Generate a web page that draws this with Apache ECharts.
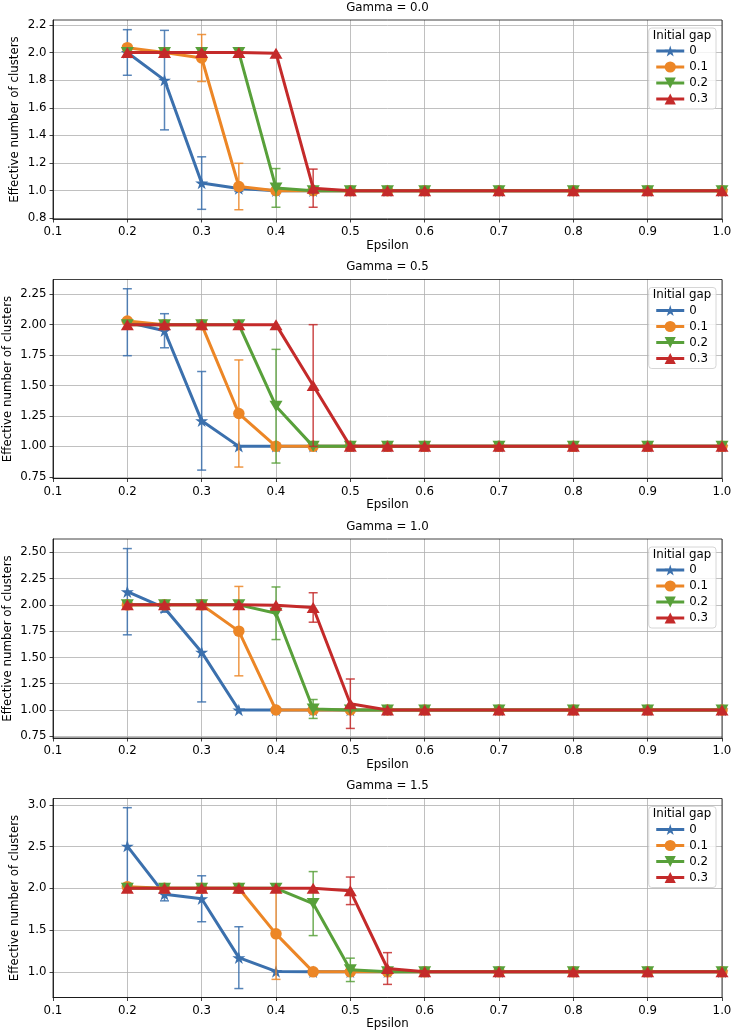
<!DOCTYPE html>
<html><head><meta charset="utf-8">
<script src="https://cdn.jsdelivr.net/npm/echarts@6/dist/echarts.min.js"></script>
<style>html,body{margin:0;padding:0;background:#fff}#c{width:733px;height:1036px}</style>
</head><body><div id="c"></div>
<script>
// ---------------- data ----------------
const epsilon = [0.2, 0.25, 0.3, 0.35, 0.4, 0.45, 0.5, 0.55, 0.6, 0.7, 0.8, 0.9, 1.0];
const gapNames = ['0', '0.1', '0.2', '0.3'];
const gammaTitles = ['Gamma = 0.0', 'Gamma = 0.5', 'Gamma = 1.0', 'Gamma = 1.5'];

// Gamma = 0.0 (one list per initial gap: 0, 0.1, 0.2, 0.3)
const meanG00 = [
  [2.0, 1.80, 1.055, 1.015, 1.0, 1.0, 1.0, 1.0, 1.0, 1.0, 1.0, 1.0, 1.0],
  [2.035, 2.0, 1.96, 1.03, 1.0, 1.0, 1.0, 1.0, 1.0, 1.0, 1.0, 1.0, 1.0],
  [2.0, 2.0, 2.0, 2.0, 1.02, 1.0, 1.0, 1.0, 1.0, 1.0, 1.0, 1.0, 1.0],
  [2.0, 2.0, 2.0, 2.0, 1.995, 1.018, 1.0, 1.0, 1.0, 1.0, 1.0, 1.0, 1.0]
];
const errG00 = [
  [0.165, 0.36, 0.19, 0.02, 0, 0, 0, 0, 0, 0, 0, 0, 0],
  [0, 0, 0.17, 0.168, 0.02, 0, 0, 0, 0, 0, 0, 0, 0],
  [0, 0, 0, 0, 0.14, 0, 0, 0, 0, 0, 0, 0, 0],
  [0, 0, 0, 0, 0, 0.138, 0, 0, 0, 0, 0, 0, 0]
];
// Gamma = 0.5
const meanG05 = [
  [2.02, 1.95, 1.21, 1.0, 1.0, 1.0, 1.0, 1.0, 1.0, 1.0, 1.0, 1.0, 1.0],
  [2.03, 2.0, 2.0, 1.27, 1.0, 1.0, 1.0, 1.0, 1.0, 1.0, 1.0, 1.0, 1.0],
  [2.0, 2.0, 2.0, 2.0, 1.33, 1.0, 1.0, 1.0, 1.0, 1.0, 1.0, 1.0, 1.0],
  [2.0, 2.0, 2.0, 2.0, 2.0, 1.5, 1.0, 1.0, 1.0, 1.0, 1.0, 1.0, 1.0]
];
const errG05 = [
  [0.275, 0.14, 0.405, 0, 0, 0, 0, 0, 0, 0, 0, 0, 0],
  [0, 0, 0, 0.44, 0, 0, 0, 0, 0, 0, 0, 0, 0],
  [0, 0, 0, 0, 0.467, 0, 0, 0, 0, 0, 0, 0, 0],
  [0, 0, 0, 0, 0, 0.5, 0, 0, 0, 0, 0, 0, 0]
];
// Gamma = 1.0
const meanG10 = [
  [2.125, 1.97, 1.55, 1.0, 1.0, 1.0, 1.0, 1.0, 1.0, 1.0, 1.0, 1.0, 1.0],
  [2.0, 2.0, 2.0, 1.75, 1.0, 1.0, 1.0, 1.0, 1.0, 1.0, 1.0, 1.0, 1.0],
  [2.0, 2.0, 2.0, 2.0, 1.92, 1.01, 1.0, 1.0, 1.0, 1.0, 1.0, 1.0, 1.0],
  [2.0, 2.0, 2.0, 2.0, 1.995, 1.975, 1.06, 1.0, 1.0, 1.0, 1.0, 1.0, 1.0]
];
const errG10 = [
  [0.41, 0.04, 0.473, 0, 0, 0, 0, 0, 0, 0, 0, 0, 0],
  [0, 0, 0, 0.425, 0, 0, 0, 0, 0, 0, 0, 0, 0],
  [0, 0, 0, 0, 0.25, 0.09, 0, 0, 0, 0, 0, 0, 0],
  [0, 0, 0, 0, 0, 0.14, 0.235, 0, 0, 0, 0, 0, 0]
];
// Gamma = 1.5
const meanG15 = [
  [2.505, 1.93, 1.875, 1.17, 1.005, 1.0, 1.0, 1.0, 1.0, 1.0, 1.0, 1.0, 1.0],
  [2.02, 2.0, 2.0, 2.0, 1.455, 1.0, 1.0, 1.0, 1.0, 1.0, 1.0, 1.0, 1.0],
  [2.0, 2.0, 2.0, 2.0, 2.0, 1.817, 1.024, 1.0, 1.0, 1.0, 1.0, 1.0, 1.0],
  [2.0, 2.0, 2.0, 2.0, 2.0, 2.0, 1.97, 1.04, 1.0, 1.0, 1.0, 1.0, 1.0]
];
const errG15 = [
  [0.46, 0.08, 0.275, 0.37, 0, 0, 0, 0, 0, 0, 0, 0, 0],
  [0, 0, 0, 0, 0.545, 0, 0, 0, 0, 0, 0, 0, 0],
  [0, 0, 0, 0, 0, 0.383, 0.14, 0, 0, 0, 0, 0, 0],
  [0, 0, 0, 0, 0, 0, 0.165, 0.19, 0, 0, 0, 0, 0]
];

const xTicks = [0.1, 0.2, 0.3, 0.4, 0.5, 0.6, 0.7, 0.8, 0.9, 1.0];
const yTicksG00 = [0.8, 1.0, 1.2, 1.4, 1.6, 1.8, 2.0, 2.2];
const yTicksG05 = [0.75, 1.0, 1.25, 1.5, 1.75, 2.0, 2.25];
const yTicksG10 = [0.75, 1.0, 1.25, 1.5, 1.75, 2.0, 2.25, 2.5];
const yTicksG15 = [1.0, 1.5, 2.0, 2.5, 3.0];
const yLimitsLow = [0.795, 0.736, 0.734, 0.693];
const yLimitsHigh = [2.235, 2.371, 2.626, 3.075];
const yDecimals = [1, 2, 2, 1];

// ---------------- presentation ----------------
const means = [meanG00, meanG05, meanG10, meanG15];
const errs = [errG00, errG05, errG10, errG15];
const yTicks = [yTicksG00, yTicksG05, yTicksG10, yTicksG15];

const FONT = 'DejaVu Sans';
const FS = 11.8;
const colors = ['#3b70ad', '#ec8626', '#58a03a', '#c42a2a'];
const STAR = 'path://M50,0 L61.23,34.55 L97.55,34.55 L68.16,55.9 L79.39,90.45 L50,69.1 L20.61,90.45 L31.84,55.9 L2.45,34.55 L38.77,34.55 Z';
const DOWN = 'path://M0,0 L100,0 L50,86 Z';
const symbols = [STAR, 'circle', DOWN, 'triangle'];
const symbolSizes = [[13, 12.5], 11.5, [13, 11], [13, 11]];

const panelTops = [20, 279.5, 539, 798.5];
const panelH = 199;
const L = 53, R = 11;
const yNameGaps = [32, 39, 39, 32];

function renderErr(params, api) {
  const x = api.value(0), lo = api.value(1), hi = api.value(2);
  if (hi - lo < 1e-9) return null;
  const a = api.coord([x, lo]), b = api.coord([x, hi]);
  const c = api.visual('color');
  const st = { stroke: c, lineWidth: 1.5, opacity: 0.85 };
  const cw = 4.5;
  return {
    type: 'group',
    children: [
      { type: 'line', shape: { x1: a[0], y1: a[1], x2: b[0], y2: b[1] }, style: st },
      { type: 'line', shape: { x1: a[0] - cw, y1: a[1], x2: a[0] + cw, y2: a[1] }, style: st },
      { type: 'line', shape: { x1: b[0] - cw, y1: b[1], x2: b[0] + cw, y2: b[1] }, style: st }
    ]
  };
}

const grid = [], xAxis = [], yAxis = [], series = [], legend = [], graphic = [];
for (let p = 0; p < 4; p++) {
  const top = panelTops[p];
  grid.push({ left: L, right: R, top: top, height: panelH, show: true, borderColor: '#111', borderWidth: 0.8, z: 1, containLabel: false, outerBoundsMode: 'none' });
  xAxis.push({
    type: 'value', gridIndex: p, min: 0.1, max: 1.0,
    name: 'Epsilon', nameLocation: 'middle', nameGap: 20.5, nameMoveOverlap: false,
    nameTextStyle: { fontFamily: FONT, fontSize: FS, color: '#000' },
    axisLine: { show: true, onZero: false, lineStyle: { color: '#111', width: 0.8 } },
    axisTick: { show: true, length: 3.5, customValues: xTicks, lineStyle: { color: '#111', width: 0.8 } },
    axisLabel: { customValues: xTicks, margin: 7, fontFamily: FONT, fontSize: FS, color: '#000', formatter: v => v.toFixed(1) },
    splitLine: { show: true, lineStyle: { color: '#b0b0b0', width: 0.8 } }
  });
  yAxis.push({
    type: 'value', gridIndex: p, min: yLimitsLow[p], max: yLimitsHigh[p],
    name: 'Effective number of clusters', nameLocation: 'middle', nameGap: yNameGaps[p], nameMoveOverlap: false,
    nameTextStyle: { fontFamily: FONT, fontSize: FS, color: '#000' },
    axisLine: { show: true, onZero: false, lineStyle: { color: '#111', width: 0.8 } },
    axisTick: { show: true, length: 3.5, customValues: yTicks[p], lineStyle: { color: '#111', width: 0.8 } },
    axisLabel: { customValues: yTicks[p], margin: 6.5, fontFamily: FONT, fontSize: FS, color: '#000', formatter: v => v.toFixed(yDecimals[p]) },
    splitLine: { show: true, lineStyle: { color: '#b0b0b0', width: 0.8 } }
  });
  for (let s = 0; s < 4; s++) {
    const m = means[p][s], e = errs[p][s];
    series.push({
      type: 'custom', name: 'err' + p + '_' + s, xAxisIndex: p, yAxisIndex: p,
      z: 10 + 2 * s, renderItem: renderErr, silent: true,
      itemStyle: { color: colors[s] },
      encode: { x: 0, y: [1, 2] },
      data: epsilon.map((x, i) => [x, m[i] - e[i], m[i] + e[i]])
    });
    series.push({
      type: 'line', name: gapNames[s], xAxisIndex: p, yAxisIndex: p,
      z: 11 + 2 * s, silent: true,
      symbol: symbols[s], symbolSize: symbolSizes[s], showSymbol: true,
      lineStyle: { color: colors[s], width: 3 },
      itemStyle: { color: colors[s], borderWidth: 0 },
      emphasis: { disabled: true },
      data: epsilon.map((x, i) => [x, m[i]])
    });
  }
  legend.push({
    data: gapNames, orient: 'vertical', right: 17, top: top + 8,
    padding: [17, 8, 4, 6], itemWidth: 28, itemHeight: 14, itemGap: 4,
    lineStyle: { width: 3 },
    backgroundColor: 'rgba(255,255,255,0.8)', borderColor: '#cccccc', borderWidth: 0.8, borderRadius: 3,
    textStyle: { fontFamily: FONT, fontSize: FS, color: '#000' }, selectedMode: false, z: 50
  });
  graphic.push({
    type: 'text', x: (L + 733 - R) / 2, y: top - 12.5, z: 60,
    style: { text: gammaTitles[p], textAlign: 'center', textVerticalAlign: 'middle', font: FS + 'px "' + FONT + '"', fill: '#000' }
  });
  graphic.push({
    type: 'text', x: 682, y: top + 15.5, z: 60,
    style: { text: 'Initial gap', textAlign: 'center', textVerticalAlign: 'middle', font: FS + 'px "' + FONT + '"', fill: '#000' }
  });
}

const chart = echarts.init(document.getElementById('c'), null, { renderer: 'canvas' });
chart.setOption({
  animation: false,
  backgroundColor: '#fff',
  textStyle: { fontFamily: FONT },
  grid, xAxis, yAxis, series, legend, graphic
});
</script>
</body></html>
